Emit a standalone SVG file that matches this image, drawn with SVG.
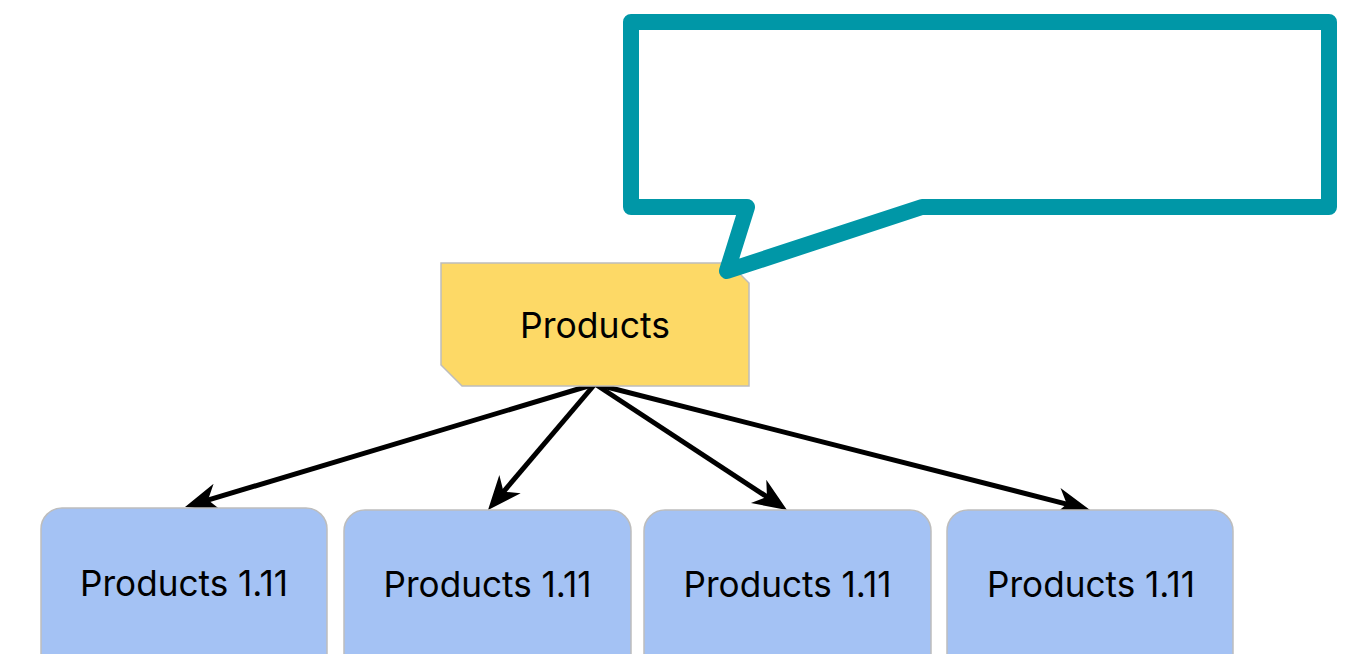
<svg xmlns="http://www.w3.org/2000/svg" width="1366" height="654" viewBox="0 0 1366 654">
  <style>
    .lbl { font-family: Inter, "Liberation Sans", sans-serif; font-size: 36px; fill: #000000; text-anchor: middle; }
    .child { fill: #a4c2f4; stroke: #bdbdbd; stroke-width: 1.5; }
    .conn { stroke: #000000; stroke-width: 5; fill: none; }
  </style>
  <defs>
    <marker id="arrow" markerUnits="userSpaceOnUse" markerWidth="36" markerHeight="30" viewBox="0 0 36 30" refX="20" refY="15" orient="auto">
      <path d="M35 15 L1 1 L11 15 L1 29 Z" fill="#000000"/>
    </marker>
  </defs>
  <rect x="0" y="0" width="1366" height="654" fill="#ffffff"/>

  <g id="connectors">
    <line class="conn" x1="595" y1="384" x2="199.4" y2="502.7" marker-end="url(#arrow)"/>
    <line class="conn" x1="595" y1="384" x2="497.7" y2="498.6" marker-end="url(#arrow)"/>
    <line class="conn" x1="595" y1="384" x2="774.5" y2="501.8" marker-end="url(#arrow)"/>
    <line class="conn" x1="595" y1="384" x2="1075.5" y2="506.3" marker-end="url(#arrow)"/>
  </g>

  <g id="node-products">
    <path d="M441 263 H729 L749 283 V386 H462 L441 365 Z" fill="#fdd966" stroke="#bdbdbd" stroke-width="1.5"/>
    <text class="lbl" x="595" y="338" textLength="150" lengthAdjust="spacingAndGlyphs">Products</text>
  </g>

  <g id="callout">
    <path d="M631 22 H1329 V207 H922 L727 271 L747 207 H631 Z" fill="#ffffff" stroke="#0097a7" stroke-width="16" stroke-linejoin="round"/>
  </g>

  <g id="node-child-1">
    <rect class="child" x="41" y="508" width="286" height="170" rx="21" ry="21"/>
    <text class="lbl" x="184" y="596" textLength="208" lengthAdjust="spacingAndGlyphs">Products 1.11</text>
  </g>
  <g id="node-child-2">
    <rect class="child" x="344" y="510" width="287" height="170" rx="21" ry="21"/>
    <text class="lbl" x="487.5" y="597" textLength="208" lengthAdjust="spacingAndGlyphs">Products 1.11</text>
  </g>
  <g id="node-child-3">
    <rect class="child" x="644" y="510" width="287" height="170" rx="21" ry="21"/>
    <text class="lbl" x="787.5" y="597" textLength="208" lengthAdjust="spacingAndGlyphs">Products 1.11</text>
  </g>
  <g id="node-child-4">
    <rect class="child" x="947" y="510" width="286" height="170" rx="21" ry="21"/>
    <text class="lbl" x="1091" y="597" textLength="208" lengthAdjust="spacingAndGlyphs">Products 1.11</text>
  </g>
</svg>
